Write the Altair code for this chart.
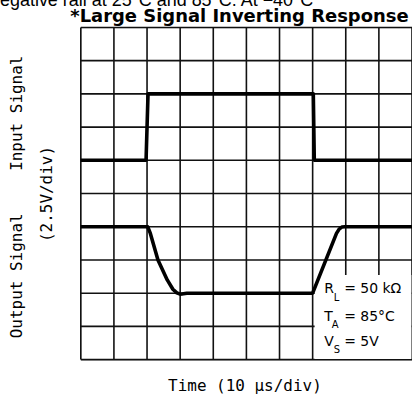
import altair as alt
import pandas as pd

# Scope trace, in screen divisions (10 x 10 grid)
input_t = [0.0, 1.97, 2.03, 7.02, 7.05, 10.0]
input_v = [6.0, 6.0, 8.0, 8.0, 6.0, 6.0]

output_t = [0.0, 2.02, 2.1, 2.33, 2.61, 2.78, 2.9, 3.0, 3.2, 7.0, 7.72, 7.8, 7.88, 7.98, 10.0]
output_v = [4.0, 4.0, 3.8, 3.0, 2.4, 2.12, 2.01, 1.97, 2.0, 2.0, 3.8, 3.93, 3.99, 4.0, 4.0]

grid_divs = list(range(0, 11))
note_box = [7.06, 9.98, 0.02, 2.55]   # t0, t1, v0, v1

W, H = 332, 333
LABEL_FONT = "DejaVu Sans Mono"
ANNOT_FONT = "DejaVu Sans"

x_scale = alt.Scale(domain=[0, 10], nice=False, zero=False)
y_scale = alt.Scale(domain=[0, 10], nice=False, zero=False)

inp = pd.DataFrame({"t": input_t, "v": input_v})
out = pd.DataFrame({"t": output_t, "v": output_v})
divs = pd.DataFrame({"d": grid_divs})
box = pd.DataFrame({"t0": [note_box[0]], "t1": [note_box[1]],
                    "v0": [note_box[2]], "v1": [note_box[3]]})

grid_style = dict(color="#111", strokeWidth=1.6)
v_grid = alt.Chart(divs).mark_rule(**grid_style).encode(
    x=alt.X("d:Q", scale=x_scale, axis=None), y=alt.value(0), y2=alt.value(H))
h_grid = alt.Chart(divs).mark_rule(**grid_style).encode(
    y=alt.Y("d:Q", scale=y_scale, axis=None), x=alt.value(0), x2=alt.value(W))

box_layer = alt.Chart(box).mark_rect(color="white").encode(
    x=alt.X("t0:Q", scale=x_scale, axis=None), x2="t1:Q",
    y=alt.Y("v0:Q", scale=y_scale, axis=None), y2="v1:Q")

trace_style = dict(color="black", strokeWidth=3.6, strokeJoin="round", strokeCap="butt")
inp_line = alt.Chart(inp).mark_line(**trace_style).encode(
    x=alt.X("t:Q", scale=x_scale, axis=None), y=alt.Y("v:Q", scale=y_scale, axis=None),
    order=alt.Order("t:Q"))
out_line = alt.Chart(out).mark_line(**trace_style).encode(
    x=alt.X("t:Q", scale=x_scale, axis=None), y=alt.Y("v:Q", scale=y_scale, axis=None),
    order=alt.Order("t:Q"))

one = alt.Data(values=[{}])


def label(text, x, y, size, font=LABEL_FONT, angle=0, align="center",
          baseline="middle", weight="normal"):
    return alt.Chart(one).mark_text(
        text=text, font=font, fontSize=size, angle=angle, align=align,
        baseline=baseline, fontWeight=weight, color="black"
    ).encode(x=alt.value(x), y=alt.value(y))


texts = [
    label("negative rail at 25°C and 85°C. At −40°C", -91, -21.5, 18,
          font="Liberation Sans", align="left", baseline="alphabetic"),
    label("*Large Signal Inverting Response", 159, -5, 18,
          font="DejaVu Sans", baseline="alphabetic", weight="bold"),
    label("Input Signal", -64, 86, 16, angle=270),
    label("Output Signal", -64, 249, 16, angle=270),
    label("(2.5V/div)", -34, 167, 16, angle=270),
    label("Time (10 μs/div)", 164.5, 359, 16),
    # supply / load conditions
    label("R", 244, 266.3, 14, font=ANNOT_FONT, align="left", baseline="alphabetic"),
    label("L", 253.5, 274.7, 10, font=ANNOT_FONT, align="left", baseline="alphabetic"),
    label("= 50 kΩ", 264, 266.3, 14, font=ANNOT_FONT, align="left", baseline="alphabetic"),
    label("T", 244, 294.7, 14, font=ANNOT_FONT, align="left", baseline="alphabetic"),
    label("A", 251.5, 301, 10, font=ANNOT_FONT, align="left", baseline="alphabetic"),
    label("= 85°C", 264, 294.7, 14, font=ANNOT_FONT, align="left", baseline="alphabetic"),
    label("V", 244, 319.7, 14, font=ANNOT_FONT, align="left", baseline="alphabetic"),
    label("S", 253.5, 326, 10, font=ANNOT_FONT, align="left", baseline="alphabetic"),
    label("= 5V", 264, 319.7, 14, font=ANNOT_FONT, align="left", baseline="alphabetic"),
]

chart = alt.layer(v_grid, h_grid, box_layer, inp_line, out_line, *texts).properties(
    width=W, height=H,
    padding={"left": 81, "top": 27, "right": 0, "bottom": 49},
    autosize=alt.AutoSizeParams(type="none"),
).configure_view(stroke="#222", strokeWidth=2.2).configure(background="white")

chart.save("out.html", embed_options={"renderer": "svg", "actions": False})
